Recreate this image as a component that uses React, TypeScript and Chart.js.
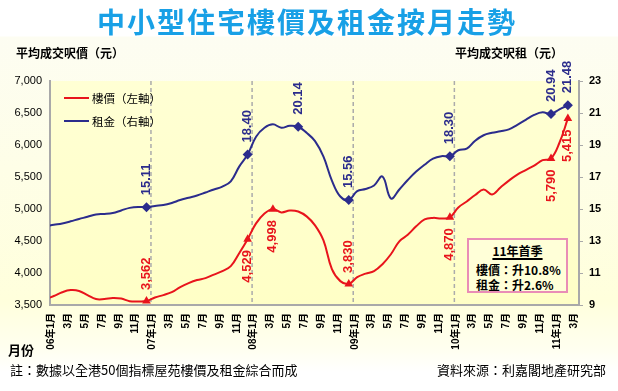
import React, { useEffect, useRef } from 'react';
import { Chart, registerables } from 'chart.js';

Chart.register(...registerables);

// Month index: 0 = 2006年1月 ... 62 = 2011年3月
const monthIndex: number[] = Array.from({ length: 63 }, (_, i) => i);

const xTickMonths: number[] = [0, 2, 4, 6, 8, 10, 12, 14, 16, 18, 20, 22, 24, 26, 28, 30, 32, 34, 36, 38, 40, 42, 44, 46, 48, 50, 52, 54, 56, 58, 60, 62];
const xTickLabels: string[] = [
  '06年1月', '3月', '5月', '7月', '9月', '11月',
  '07年1月', '3月', '5月', '7月', '9月', '11月',
  '08年1月', '3月', '5月', '7月', '9月', '11月',
  '09年1月', '3月', '5月', '7月', '9月', '11月',
  '10年1月', '3月', '5月', '7月', '9月', '11月',
  '11年1月', '3月',
];

// 樓價 (左軸) 平均成交呎價
const priceValues: number[] = [
  3590, 3640, 3700, 3733, 3720, 3655, 3593, 3593, 3610, 3600, 3560, 3555,
  3562, 3617, 3655, 3700, 3780, 3842, 3890, 3920, 3975, 4030, 4107, 4310,
  4529, 4776, 4931, 4998, 4947, 4975, 4960, 4885, 4745, 4510, 4060, 3873,
  3830, 3935, 3990, 4030, 4138, 4293, 4495, 4597, 4729, 4838, 4861, 4853,
  4870, 5024, 5118, 5219, 5304, 5227, 5336, 5444, 5538, 5608, 5678, 5763,
  5790, 6035, 6415,
];

// 租金 (右軸) 平均成交呎租
const rentValues: number[] = [
  13.91, 14.01, 14.10, 14.23, 14.38, 14.51, 14.66, 14.69, 14.75, 14.91, 15.07, 15.13,
  15.11, 15.19, 15.25, 15.38, 15.56, 15.70, 15.84, 16.03, 16.22, 16.40, 16.73, 17.65,
  18.40, 19.52, 20.08, 20.29, 20.08, 20.20, 20.14, 19.76, 19.24, 18.27, 16.78, 15.78,
  15.56, 16.12, 16.25, 16.47, 17.03, 15.66, 16.22, 16.81, 17.34, 17.77, 18.15, 18.30,
  18.30, 18.67, 18.77, 19.27, 19.61, 19.76, 19.86, 19.98, 20.26, 20.57, 20.88, 21.04,
  20.94, 21.23, 21.48,
];

const priceLabelIdx: number[] = [12, 24, 27, 36, 48, 60, 62];
const priceLabelText: string[] = ['3,562', '4,529', '4,998', '3,830', '4,870', '5,790', '5,415'];
const priceLabelSide: string[] = ['above', 'below', 'below', 'above', 'below', 'below', 'below'];

const rentLabelIdx: number[] = [12, 24, 30, 36, 48, 60, 62];
const rentLabelText: string[] = ['15.11', '18.40', '20.14', '15.56', '18.30', '20.94', '21.48'];

const yearStartMonths: number[] = [12, 24, 36, 48];

const leftTicks: number[] = [3500, 4000, 4500, 5000, 5500, 6000, 6500, 7000];
const rightTicks: number[] = [9, 11, 13, 15, 17, 19, 21, 23];

const RED = '#E8141C';
const BLUE = '#2B2C8C';
const LATIN = "'Liberation Sans', 'Noto Sans CJK TC', sans-serif";
const CJK = "'Noto Sans CJK TC', 'Liberation Sans', sans-serif";

const plotBgPlugin = {
  id: 'plotBg',
  beforeDraw(chart: any) {
    const { ctx, chartArea } = chart;
    const { left, top, right, bottom } = chartArea;
    const g = ctx.createLinearGradient(0, top, 0, bottom);
    g.addColorStop(0, '#FFFFD4');
    g.addColorStop(1, '#FFFFC6');
    ctx.save();
    ctx.fillStyle = g;
    ctx.fillRect(left, top, right - left, bottom - top);
    ctx.restore();
  },
  beforeDatasetsDraw(chart: any) {
    const { ctx, chartArea, scales } = chart;
    ctx.save();
    ctx.strokeStyle = '#ABABAB';
    ctx.lineWidth = 1.5;
    ctx.setLineDash([4, 3]);
    yearStartMonths.forEach((m) => {
      const x = scales.x.getPixelForValue(m + 0.53);
      ctx.beginPath();
      ctx.moveTo(x, chartArea.top);
      ctx.lineTo(x, chartArea.bottom);
      ctx.stroke();
    });
    ctx.restore();
  },
};

const pointLabelPlugin = {
  id: 'pointLabels',
  afterDatasetsDraw(chart: any) {
    const ctx = chart.ctx;
    const drawSet = (ds: number, idxs: number[], texts: string[], sides: string[], color: string, gap: number) => {
      const meta = chart.getDatasetMeta(ds);
      idxs.forEach((idx, k) => {
        const el = meta.data[idx];
        if (!el) return;
        ctx.save();
        ctx.translate(el.x, el.y);
        ctx.rotate(-Math.PI / 2);
        ctx.font = `bold 13px ${LATIN}`;
        ctx.fillStyle = color;
        ctx.textBaseline = 'middle';
        if (sides[k] === 'above') {
          ctx.textAlign = 'left';
          ctx.fillText(texts[k], gap, 0);
        } else {
          ctx.textAlign = 'right';
          ctx.fillText(texts[k], -gap, 0);
        }
        ctx.restore();
      });
    };
    drawSet(0, priceLabelIdx, priceLabelText, priceLabelSide, RED, 11);
    drawSet(1, rentLabelIdx, rentLabelText, rentLabelIdx.map(() => 'above'), BLUE, 12);
  },
};

function ChartCanvas() {
  const ref = useRef<HTMLCanvasElement>(null);
  useEffect(() => {
    if (!ref.current) return;
    const chart = new Chart(ref.current, {
      type: 'line',
      data: {
        datasets: [
          {
            label: '樓價（左軸）',
            data: priceValues.map((v, i) => ({ x: monthIndex[i], y: v })),
            yAxisID: 'y',
            borderColor: RED,
            backgroundColor: RED,
            borderWidth: 2,
            tension: 0.4,
            pointStyle: 'triangle',
            pointRadius: (c: any) => (priceLabelIdx.includes(c.dataIndex) ? 5 : 0),
            pointBorderWidth: 0,
          },
          {
            label: '租金（右軸）',
            data: rentValues.map((v, i) => ({ x: monthIndex[i], y: v })),
            yAxisID: 'y1',
            borderColor: BLUE,
            backgroundColor: BLUE,
            borderWidth: 2,
            tension: 0.4,
            pointStyle: 'rectRot',
            pointRadius: (c: any) => (rentLabelIdx.includes(c.dataIndex) ? 5 : 0),
            pointBorderWidth: 0,
          },
        ],
      },
      options: {
        responsive: false,
        animation: false,
        events: [],
        layout: { padding: { top: 81, left: 0, right: 0, bottom: 0 } },
        plugins: {
          legend: { display: false },
          tooltip: { enabled: false },
          title: { display: false },
        },
        scales: {
          x: {
            type: 'linear',
            min: 0.55,
            max: 63.32,
            afterBuildTicks: (scale: any) => {
              scale.ticks = xTickMonths.map((v) => ({ value: v }));
            },
            afterFit: (scale: any) => {
              scale.height = 86;
            },
            grid: { display: false, drawTicks: false },
            border: { display: true, color: '#A9A9A9', width: 2 },
            ticks: {
              autoSkip: false,
              minRotation: 90,
              maxRotation: 90,
              padding: 8,
              labelOffset: 6,
              color: '#000',
              font: { family: LATIN, size: 10, weight: 'bold' },
              callback: (value: any) => {
                const k = xTickMonths.indexOf(Number(value));
                return k >= 0 ? xTickLabels[k] : '';
              },
            },
          },
          y: {
            type: 'linear',
            position: 'left',
            min: 3500,
            max: 7000,
            afterBuildTicks: (scale: any) => {
              scale.ticks = leftTicks.map((v) => ({ value: v }));
            },
            afterFit: (scale: any) => {
              scale.width = 50;
            },
            grid: { drawOnChartArea: false, drawTicks: false },
            border: { display: true, color: '#A9A9A9', width: 2 },
            ticks: {
              padding: 8,
              color: '#000',
              font: { family: LATIN, size: 11 },
              callback: (value: any) => Number(value).toLocaleString('en-US'),
            },
          },
          y1: {
            type: 'linear',
            position: 'right',
            min: 9,
            max: 23,
            afterBuildTicks: (scale: any) => {
              scale.ticks = rightTicks.map((v) => ({ value: v }));
            },
            afterFit: (scale: any) => {
              scale.width = 39;
            },
            grid: { drawOnChartArea: false, drawTicks: true, tickLength: 4, color: '#A9A9A9' },
            border: { display: true, color: '#A9A9A9', width: 2 },
            ticks: {
              padding: 6,
              color: '#000',
              font: { family: LATIN, size: 11, weight: 'bold' },
            },
          },
        },
      } as any,
      plugins: [plotBgPlugin, pointLabelPlugin],
    });
    return () => chart.destroy();
  }, []);
  return <canvas ref={ref} width={618} height={391} style={{ position: 'absolute', left: 0, top: 0, width: 618, height: 391 }} />;
}

const abs = (s: React.CSSProperties): React.CSSProperties => ({ position: 'absolute', whiteSpace: 'nowrap', ...s });

export default function App() {
  return (
    <div
      style={{
        position: 'absolute',
        left: 0,
        top: 0,
        width: 618,
        height: 391,
        overflow: 'hidden',
        background:
          'linear-gradient(to bottom, #FFFFFF 0px, #FFFFFF 36px, #FDFDF2 37px, #FFFFDC 300px, #FFFFF0 350px, #FFFFFF 372px)',
        fontFamily: CJK,
      }}
    >
      <ChartCanvas />
      <div
        style={abs({
          left: 0,
          top: 5,
          width: 614,
          textAlign: 'center',
          fontSize: 28,
          lineHeight: '32px',
          fontWeight: 'bold',
          letterSpacing: 2,
          color: '#18A0E6',
        })}
      >
        中小型住宅樓價及租金按月走勢
      </div>
      <div style={abs({ left: 16, top: 45, fontSize: 12, lineHeight: '16px', fontWeight: 'bold', color: '#000' })}>
        平均成交呎價（元）
      </div>
      <div style={abs({ left: 455, top: 45, fontSize: 12, lineHeight: '16px', fontWeight: 'bold', color: '#000' })}>
        平均成交呎租（元）
      </div>
      {/* legend */}
      <div style={abs({ left: 64, top: 97, width: 25, height: 2, background: RED })} />
      <div style={abs({ left: 92, top: 90, fontSize: 11.5, lineHeight: '16px', color: '#000' })}>樓價（左軸）</div>
      <div style={abs({ left: 64, top: 120, width: 25, height: 2, background: BLUE })} />
      <div style={abs({ left: 92, top: 113, fontSize: 11.5, lineHeight: '16px', color: '#000' })}>租金（右軸）</div>
      {/* note box */}
      <div
        style={abs({
          left: 467,
          top: 238,
          width: 101,
          height: 55,
          boxSizing: 'border-box',
          border: '2px solid #E98DB6',
          background: '#FFFFD8',
        })}
      >
        <div
          style={abs({
            left: 0,
            top: 3,
            width: 97,
            textAlign: 'center',
            fontSize: 12,
            lineHeight: '15px',
            fontWeight: 'bold',
            color: '#000',
            textDecoration: 'underline',
            textDecorationThickness: 2,
            textUnderlineOffset: 2,
          })}
        >
          11年首季
        </div>
        <div style={abs({ left: 7, top: 22, fontSize: 12, lineHeight: '15px', fontWeight: 'bold', color: '#000' })}>
          樓價：升10.8%
        </div>
        <div style={abs({ left: 7, top: 37, fontSize: 12, lineHeight: '15px', fontWeight: 'bold', color: '#000' })}>
          租金：升2.6%
        </div>
      </div>
      <div style={abs({ left: 8, top: 341, fontSize: 13, lineHeight: '18px', fontWeight: 'bold', color: '#000' })}>月份</div>
      <div style={abs({ left: 10, top: 361, fontSize: 13, lineHeight: '18px', color: '#000' })}>
        註：數據以全港50個指標屋苑樓價及租金綜合而成
      </div>
      <div style={abs({ left: 437, top: 361, fontSize: 13, lineHeight: '18px', color: '#000' })}>
        資料來源：利嘉閣地產研究部
      </div>
    </div>
  );
}
